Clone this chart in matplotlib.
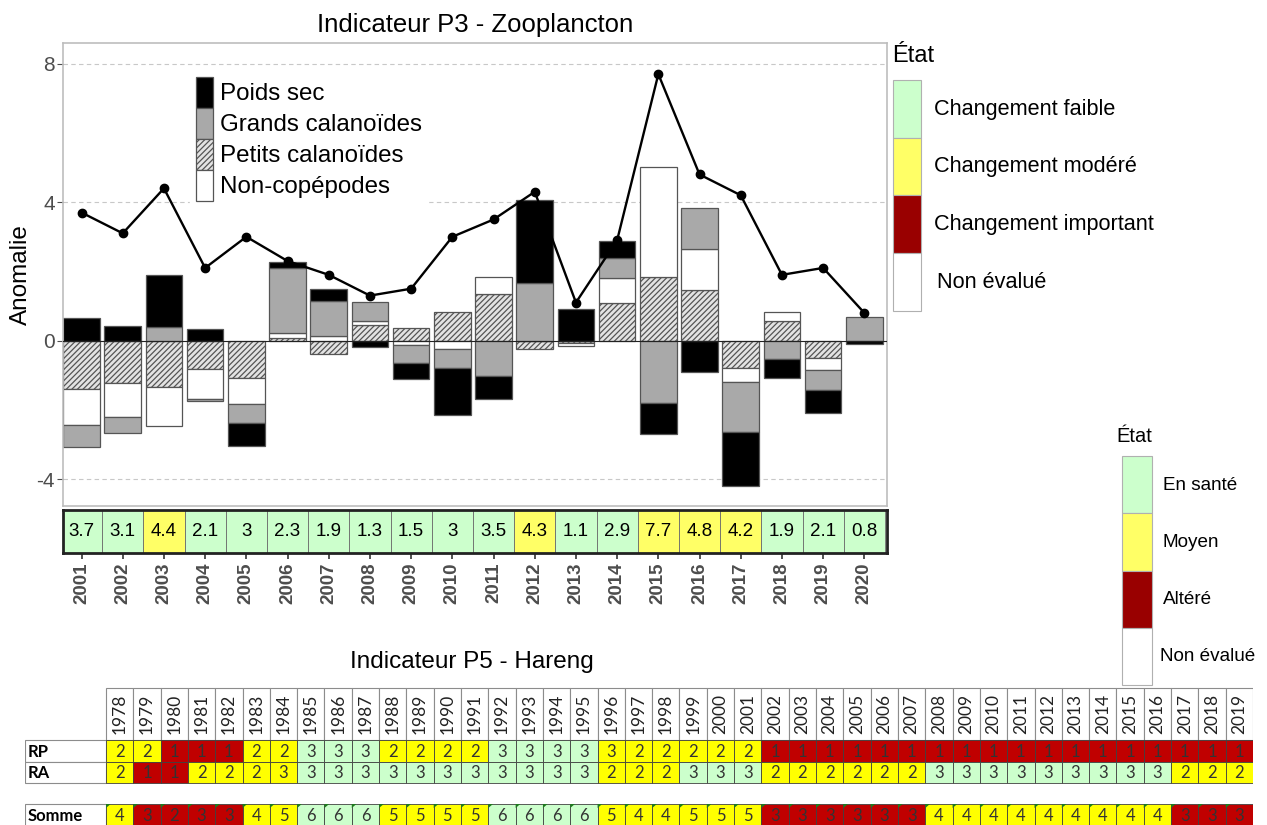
import numpy as np
import matplotlib
matplotlib.use("Agg")
import matplotlib.pyplot as plt
from matplotlib.patches import Rectangle, Polygon

plt.rcParams['font.family'] = ['Liberation Sans', 'DejaVu Sans']
plt.rcParams['hatch.linewidth'] = 0.9

# ---- P3 Zooplancton data ----
annees = list(range(2001, 2021))
poids_sec = [0.65, 0.43, 1.50, 0.34, -0.67, 0.17, 0.36, -0.19, -0.45, -1.35,
             -0.66, 2.40, 0.91, 0.50, -0.90, -0.92, -1.56, -0.56, -0.67, -0.10]
grands_cal = [-0.64, -0.46, 0.40, -0.06, -0.53, 1.88, 1.01, 0.56, -0.51, -0.56,
              -1.02, 1.65, 0.0, 0.58, -1.80, 1.20, -1.43, -0.53, -0.58, 0.68]
petits_cal = [-1.41, -1.23, -1.35, -0.83, -1.09, 0.08, -0.39, 0.46, 0.36, 0.84,
              1.35, -0.25, -0.07, 1.09, 1.84, 1.45, -0.78, 0.56, -0.51, 0.0]
non_cop = [-1.03, -0.97, -1.12, -0.87, -0.75, 0.14, 0.12, 0.10, -0.14, -0.23,
           0.48, 0.0, -0.10, 0.72, 3.18, 1.19, -0.42, 0.26, -0.34, 0.0]
indice = [3.7, 3.1, 4.4, 2.1, 3, 2.3, 1.9, 1.3, 1.5, 3, 3.5, 4.3, 1.1, 2.9,
          7.7, 4.8, 4.2, 1.9, 2.1, 0.8]
etat_p3 = ['F', 'F', 'M', 'F', 'F', 'F', 'F', 'F', 'F', 'F', 'F', 'M', 'F', 'F',
           'M', 'M', 'M', 'F', 'F', 'F']

# ---- P5 Hareng data ----
annees_h = list(range(1978, 2020))
rp = [2, 2, 1, 1, 1, 2, 2, 3, 3, 3, 2, 2, 2, 2, 3, 3, 3, 3, 3, 2, 2, 2, 2, 2] + [1] * 18
rp_etat = "MMAAAMMSSSMMMMSSSSMMMMMM" + "A" * 18
ra = [2, 1, 1, 2, 2, 2, 3] + [3] * 11 + [2, 2, 2, 3, 3, 3] + [2] * 6 + [3] * 9 + [2, 2, 2]
ra_etat = "MAAMMMM" + "S" * 11 + "MMMSSS" + "M" * 6 + "S" * 9 + "MMM"
somme = [4, 3, 2, 3, 3, 4, 5, 6, 6, 6, 5, 5, 5, 5, 6, 6, 6, 6, 5, 4, 4, 5, 5, 5] \
        + [3] * 6 + [4] * 9 + [3, 3, 3]
somme_etat = "MAAAAMMSSSMMMMSSSSMMMMMM" + "A" * 6 + "M" * 9 + "AAA"

W, H = 1267, 825
fig = plt.figure(figsize=(W / 100, H / 100), dpi=100)

col_leg = {'F': '#ccffcc', 'M': '#ffff66', 'A': '#990000', 'N': '#ffffff'}
col_tab = {'S': '#ccffcc', 'M': '#ffff00', 'A': '#c00000'}

# ---- main chart ----
ax = fig.add_axes([63 / W, 1 - 506 / H, 824 / W, 463 / H])
x = np.array(annees)
series = [
    (petits_cal, dict(facecolor='#e3e3e3', hatch='//////', edgecolor='#555555'), 'Petits calanoïdes'),
    (non_cop, dict(facecolor='white', edgecolor='#555555'), 'Non-copépodes'),
    (grands_cal, dict(facecolor='#a9a9a9', edgecolor='#555555'), 'Grands calanoïdes'),
    (poids_sec, dict(facecolor='black', edgecolor='#555555'), 'Poids sec'),
]
pos = np.zeros(len(x))
neg = np.zeros(len(x))
handles = {}
for vals, style, lab in series:
    v = np.array(vals)
    bottom = np.where(v >= 0, pos, neg)
    b = ax.bar(x, v, bottom=bottom, width=0.89, linewidth=0.9, zorder=2, label=lab, **style)
    handles[lab] = b
    pos = pos + np.where(v >= 0, v, 0)
    neg = neg + np.where(v < 0, v, 0)

ax.axhline(0, color='#222222', lw=0.8, zorder=3)
ax.plot(x, indice, color='black', lw=1.7, marker='o', ms=6, zorder=4)

ax.set_xlim(2000.55, 2020.55)
ax.set_ylim(-4.78, 8.6)
ax.set_yticks([-4, 0, 4, 8])
ax.set_yticklabels(['-4', '0', '4', '8'])
ax.tick_params(axis='y', labelsize=15, colors='#4d4d4d', length=4, width=0.8, pad=2)
ax.set_xticks([])
for yv in [-4, 4, 8]:
    ax.axhline(yv, color='#c8c8c8', lw=0.8, ls=(0, (4, 3)), zorder=0)
for s in ax.spines.values():
    s.set_color('#bdbdbd')
    s.set_linewidth(1.2)
ax.set_ylabel('Anomalie', fontsize=17.5)
ax.yaxis.set_label_coords(-0.038, 0.5)
ax.set_title('Indicateur P3 - Zooplancton', fontsize=18.5, pad=8)

order = ['Poids sec', 'Grands calanoïdes', 'Petits calanoïdes', 'Non-copépodes']
leg = ax.legend([handles[k] for k in order], order, loc='upper left',
                bbox_to_anchor=(0.154, 0.9395), borderaxespad=0, fontsize=17.4,
                frameon=True, handlelength=0.7, handleheight=1.59, labelspacing=0.0,
                handletextpad=0.28, borderpad=0.25, fancybox=False, framealpha=1)
leg.get_frame().set_edgecolor('white')

# ---- colored value strip ----
axt = fig.add_axes([63 / W, 1 - 553 / H, 824 / W, 43 / H])
for xi, val, e in zip(annees, indice, etat_p3):
    axt.add_patch(Rectangle((xi - 0.5, 0), 1, 1, facecolor=col_leg[e],
                            edgecolor='#6b6b6b', lw=0.6))
    axt.text(xi, 0.5, f"{val:g}", ha='center', va='center', fontsize=13.5)
axt.set_xlim(2000.55, 2020.55)
axt.set_ylim(0, 1)
axt.set_yticks([])
axt.set_xticks(annees)
axt.set_xticklabels([str(a) for a in annees], rotation=90, fontsize=13.5,
                    fontweight='bold', color='#4d4d4d')
axt.tick_params(axis='x', length=4, width=1.2, color='#333333', pad=3)
for s in axt.spines.values():
    s.set_color('#222222')
    s.set_linewidth(2)

# ---- overlay for legends and P5 title ----
ov = fig.add_axes([0, 0, 1, 1], zorder=-1)
ov.set_xlim(0, W)
ov.set_ylim(H, 0)
ov.axis('off')

ov.text(892, 56, 'État', fontsize=17, va='center', ha='left')
leg1 = [('F', 'Changement faible'), ('M', 'Changement modéré'),
        ('A', 'Changement important'), ('N', 'Non évalué')]
for i, (k, lab) in enumerate(leg1):
    y0 = 80 + i * 57.7
    ov.add_patch(Rectangle((893, y0), 28, 57.7, facecolor=col_leg[k],
                           edgecolor='#b0b0b0', lw=0.8))
    ov.text(934 if k != 'N' else 937, y0 + 29, lab, fontsize=15.6, va='center')

ov.text(1116, 437, 'État', fontsize=14.5, va='center', ha='left')
leg2 = [('F', 'En santé'), ('M', 'Moyen'), ('A', 'Altéré'), ('N', 'Non évalué')]
for i, (k, lab) in enumerate(leg2):
    y0 = 456 + i * 57.3
    ov.add_patch(Rectangle((1122, y0), 30, 57.3, facecolor=col_leg[k],
                           edgecolor='#b0b0b0', lw=0.8))
    ov.text(1163 if k != 'N' else 1160, y0 + 29, lab, fontsize=13.6, va='center')

ov.text(472, 662, 'Indicateur P5 - Hareng', fontsize=17.5, ha='center', va='center')

# ---- P5 table ----
lab_w = 81 / 27.31
axh = fig.add_axes([25 / W, 0, (1253 - 25) / W, (825 - 680) / H])
axh.set_xlim(1977.5 - lab_w, 2019.5)
axh.set_ylim(825, 680)
axh.axis('off')
tfont = ['Lato', 'DejaVu Sans']

for xi in annees_h:
    axh.add_patch(Rectangle((xi - 0.5, 688), 1, 52, facecolor='white',
                            edgecolor='#8c8c8c', lw=0.8))
    axh.text(xi, 714, str(xi), rotation=90, ha='center', va='center',
             fontsize=12.5, family=tfont, color='#222222')

rows = [(740, 22, 'RP', rp, rp_etat), (762, 21, 'RA', ra, ra_etat),
        (804, 22, 'Somme', somme, somme_etat)]
for y0, h, name, vals, etats in rows:
    axh.add_patch(Rectangle((1977.5 - lab_w, y0), lab_w, h, facecolor='white',
                            edgecolor='#8c8c8c', lw=0.8))
    axh.text(1977.5 - lab_w + 0.1, y0 + h / 2 + 0.5, name, ha='left', va='center',
             fontsize=12, fontweight='bold', family=tfont)
    for xi, v, e in zip(annees_h, vals, etats):
        axh.add_patch(Rectangle((xi - 0.5, y0), 1, h, facecolor=col_tab[e],
                                edgecolor='#404040', lw=0.6))
        axh.text(xi, y0 + h / 2 + 0.5, str(v), ha='center', va='center',
                 fontsize=12, family=tfont, color='#333333')
        if name == 'Somme':
            axh.add_patch(Polygon([(xi - 0.5, y0), (xi - 0.33, y0), (xi - 0.5, y0 + 4)],
                                  closed=True, facecolor='#1f7a1f', lw=0))

fig.savefig('out.png', dpi=100)
